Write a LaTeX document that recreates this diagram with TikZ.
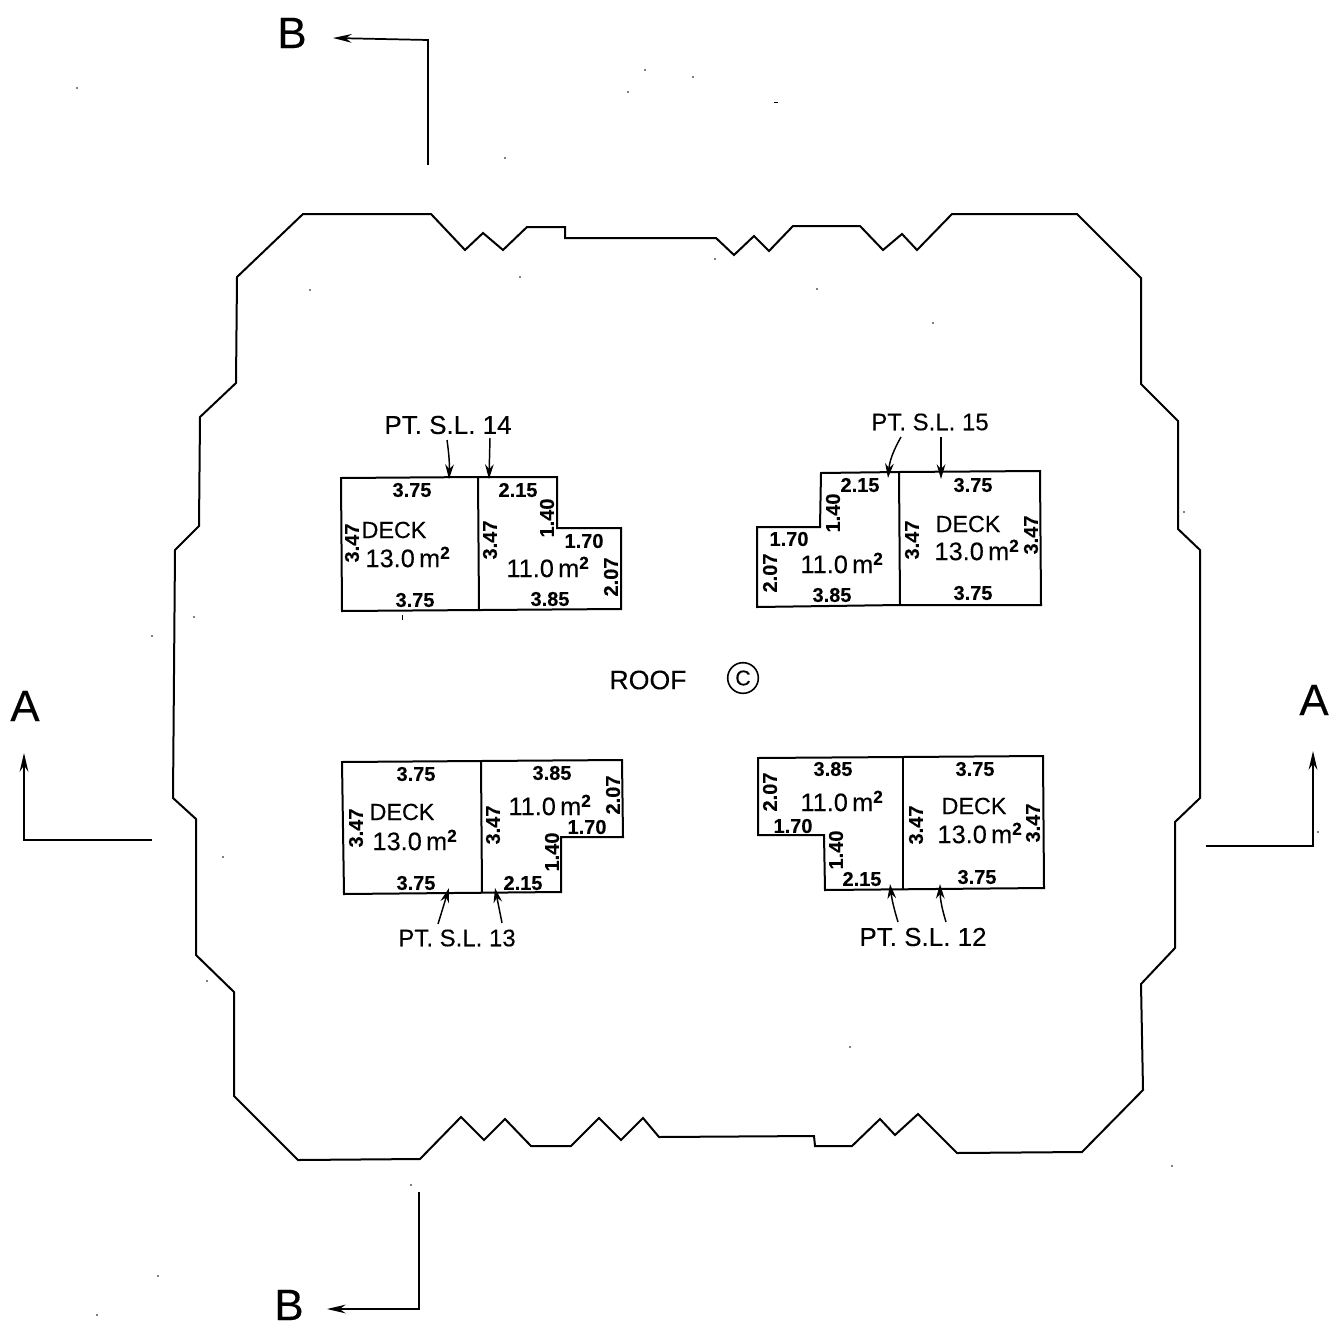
\documentclass[tikz,border=0pt]{standalone}
\usepackage{fontspec}
\setmainfont{Liberation Sans}[FakeBold=0.2]
\usetikzlibrary{arrows.meta}
\tikzset{
  wall/.style={draw=black,line width=1.5pt,line join=miter},
  section/.style={draw=black,line width=1.3pt,-{Stealth[length=14pt,width=6.5pt]}},
  ptr/.style={draw=black,line width=1.1pt,-{Stealth[length=11pt,width=6.5pt]}},
  dim/.style={inner sep=0pt,font=\fontsize{15}{16}\bfseries\selectfont},
  dimv/.style={dim,rotate=90},
  deck/.style={inner sep=0pt,font=\fontsize{17.5}{18}\selectfont},
  area/.style={inner sep=0pt,font=\fontsize{19}{20}\selectfont},
  tagtxt/.style={inner sep=0pt,font=\fontsize{19.5}{20}\selectfont},
  tagnarrow/.style={inner sep=0pt,font=\fontsize{18}{20}\selectfont},
  marktxt/.style={inner sep=0pt,font=\fontsize{33}{34}\selectfont},
  speck/.style={fill=black,draw=none}
}
\newcommand{\msq}{\,m\textsuperscript{\fontsize{13}{13}\bfseries\selectfont 2}}
\begin{document}
\begin{tikzpicture}[x=0.75pt,y=-0.75pt]
\useasboundingbox (0,0) rectangle (1330,1334);
\fill[white] (0,0) rectangle (1330,1334);

% roof outline
\draw[wall] (237,277) -- (303,214) -- (431,214) -- (465,250) -- (483,233) -- (503,250) -- (527,227) -- (565,227) -- (565,238) -- (716,238) -- (734,255) -- (754,236) -- (769,251) -- (793,226) -- (860,226) -- (883,250) -- (902,234) -- (917,250) -- (952,214) -- (1077,214) -- (1141,278) -- (1141,384) -- (1178,421) -- (1178,529) -- (1200,550) -- (1200,798) -- (1175,822) -- (1175,948) -- (1141,984) -- (1143,1090) -- (1082,1152) -- (957,1153) -- (918,1114) -- (895,1135) -- (880,1119) -- (852,1146) -- (815,1146) -- (814,1136) -- (659,1137) -- (643,1118) -- (621,1140) -- (599,1118) -- (571,1146) -- (531,1146) -- (505,1119) -- (484,1140) -- (461,1117) -- (420,1159) -- (298,1160) -- (234,1096) -- (234,992) -- (196,955) -- (196,819) -- (173,798) -- (175,550) -- (199,526) -- (200,417) -- (236,383) -- cycle;

% top-left deck
\draw[wall] (341,478) -- (478,477) -- (557,477) -- (557,528) -- (621,528) -- (621,609) -- (342,611) -- cycle;
\draw[wall] (478,477) -- (479,610);
\node[dim]  (tl1) at (412,490) {3.75};
\node[dim]  (tl2) at (518,490) {2.15};
\node[dimv] (tl3) at (547,518) {1.40};
\node[dim]  (tl4) at (584,541) {1.70};
\node[dimv] (tl5) at (611,577) {2.07};
\node[dim]  (tl6) at (550,599) {3.85};
\node[dimv] (tl7) at (490,540) {3.47};
\node[dimv] (tl8) at (352,543) {3.47};
\node[dim]  (tl9) at (415,600) {3.75};
\node[area] (tla) at (548,567) {11.0\msq};
\node[deck] (tld) at (394,530) {DECK};
\node[area] (tlb) at (408,557) {13.0\msq};
\node[tagtxt] (tlt) at (448,425) {PT. S.L. 14};
\coordinate (tlp1) at (447,440); \coordinate (tlq1) at (449,479);
\coordinate (tlp2) at (490,438); \coordinate (tlq2) at (489,479);
\draw[ptr] (tlp1) to[bend left=5] (tlq1);
\draw[ptr] (tlp2) -- (tlq2);

% top-right deck
\draw[wall] (821,473) -- (899,472) -- (1040,471) -- (1041,605) -- (900,605) -- (757,607) -- (757,527) -- (820,527) -- cycle;
\draw[wall] (899,472) -- (900,605);
\node[dim]  (tr1) at (973,485) {3.75};
\node[dim]  (tr2) at (860,485) {2.15};
\node[dimv] (tr3) at (833,513) {1.40};
\node[dim]  (tr4) at (789,539) {1.70};
\node[dimv] (tr5) at (770,573) {2.07};
\node[dim]  (tr6) at (832,595) {3.85};
\node[dimv] (tr7) at (912,540) {3.47};
\node[dimv] (tr8) at (1031,535) {3.47};
\node[dim]  (tr9) at (973,593) {3.75};
\node[area] (tra) at (842,563) {11.0\msq};
\node[deck] (trd) at (968,524) {DECK};
\node[area] (trb) at (977,550) {13.0\msq};
\node[tagnarrow] (trt) at (930,422) {PT. S.L. 15};
\coordinate (trp1) at (901,437); \coordinate (trq1) at (888,478);
\coordinate (trp2) at (941,437); \coordinate (trq2) at (941,479);
\draw[ptr] (trp1) to[bend right=12] (trq1);
\draw[ptr] (trp2) -- (trq2);

% bottom-left deck
\draw[wall] (342,762) -- (481,761) -- (622,760) -- (623,837) -- (561,837) -- (561,892) -- (344,894) -- cycle;
\draw[wall] (481,761) -- (482,893);
\node[dim]  (bl1) at (416,774) {3.75};
\node[dim]  (bl2) at (523,883) {2.15};
\node[dimv] (bl3) at (552,852) {1.40};
\node[dim]  (bl4) at (587,827) {1.70};
\node[dimv] (bl5) at (613,795) {2.07};
\node[dim]  (bl6) at (552,773) {3.85};
\node[dimv] (bl7) at (493,825) {3.47};
\node[dimv] (bl8) at (356,828) {3.47};
\node[dim]  (bl9) at (416,883) {3.75};
\node[area] (bla) at (550,805) {11.0\msq};
\node[deck] (bld) at (402,812) {DECK};
\node[area] (blb) at (415,840) {13.0\msq};
\node[tagnarrow] (blt) at (457,938) {PT. S.L. 13};
\coordinate (blp1) at (438,924); \coordinate (blq1) at (449,888);
\coordinate (blp2) at (502,923); \coordinate (blq2) at (495,888);
\draw[ptr] (blp1) -- (blq1);
\draw[ptr] (blp2) -- (blq2);

% bottom-right deck
\draw[wall] (758,758) -- (903,757) -- (1043,756) -- (1044,888) -- (825,890) -- (824,835) -- (758,835) -- cycle;
\draw[wall] (903,757) -- (903,889);
\node[dim]  (br1) at (975,769) {3.75};
\node[dim]  (br2) at (862,879) {2.15};
\node[dimv] (br3) at (836,850) {1.40};
\node[dim]  (br4) at (793,826) {1.70};
\node[dimv] (br5) at (770,792) {2.07};
\node[dim]  (br6) at (833,769) {3.85};
\node[dimv] (br7) at (916,825) {3.47};
\node[dimv] (br8) at (1033,823) {3.47};
\node[dim]  (br9) at (977,877) {3.75};
\node[area] (bra) at (842,801) {11.0\msq};
\node[deck] (brd) at (974,806) {DECK};
\node[area] (brb) at (980,833) {13.0\msq};
\node[tagtxt] (brt) at (923,937) {PT. S.L. 12};
\coordinate (brp1) at (898,922); \coordinate (brq1) at (890,884);
\coordinate (brp2) at (946,922); \coordinate (brq2) at (940,884);
\draw[ptr] (brp1) to[bend left=5] (brq1);
\draw[ptr] (brp2) to[bend left=8] (brq2);

% centre label
\node[inner sep=0pt,font=\fontsize{20}{21}\selectfont] (roof) at (648,680) {ROOF};
\node[draw,circle,line width=1.2pt,inner sep=0pt,minimum size=23pt,font=\fontsize{16}{16}\selectfont] (rc) at (743,678) {C};

% section marks
\node[marktxt] (bt) at (292,33) {B};
\coordinate (bts) at (428,165); \coordinate (btc) at (428,40); \coordinate (bte) at (333,38);
\draw[section] (bts) -- (btc) -- (bte);
\node[marktxt] (bb) at (289,1305) {B};
\coordinate (bbs) at (419,1192); \coordinate (bbc) at (419,1309); \coordinate (bbe) at (327,1309);
\draw[section] (bbs) -- (bbc) -- (bbe);
\node[marktxt] (al) at (25,706) {A};
\coordinate (als) at (152,840); \coordinate (alc) at (24,840); \coordinate (ale) at (24,753);
\draw[section] (als) -- (alc) -- (ale);
\node[marktxt] (ar) at (1314,700) {A};
\coordinate (ars) at (1206,846); \coordinate (arc) at (1313,846); \coordinate (are) at (1313,751);
\draw[section] (ars) -- (arc) -- (are);

% scan specks
\foreach \p in {(310,290),(520,277),(715,259),(817,289),(194,617),(223,857),(207,981),(77,88),(505,158),(645,70),(693,77),(628,92),(933,323),(152,636),(850,1047),(1172,1166),(411,1185),(158,1276),(97,1315),(1184,512),(1318,832)}
  \fill[speck] \p circle (0.9);
\fill[speck] (774,102) rectangle (778,103.5);
\fill[speck] (401.5,615) rectangle (403,620);
\end{tikzpicture}
\end{document}
